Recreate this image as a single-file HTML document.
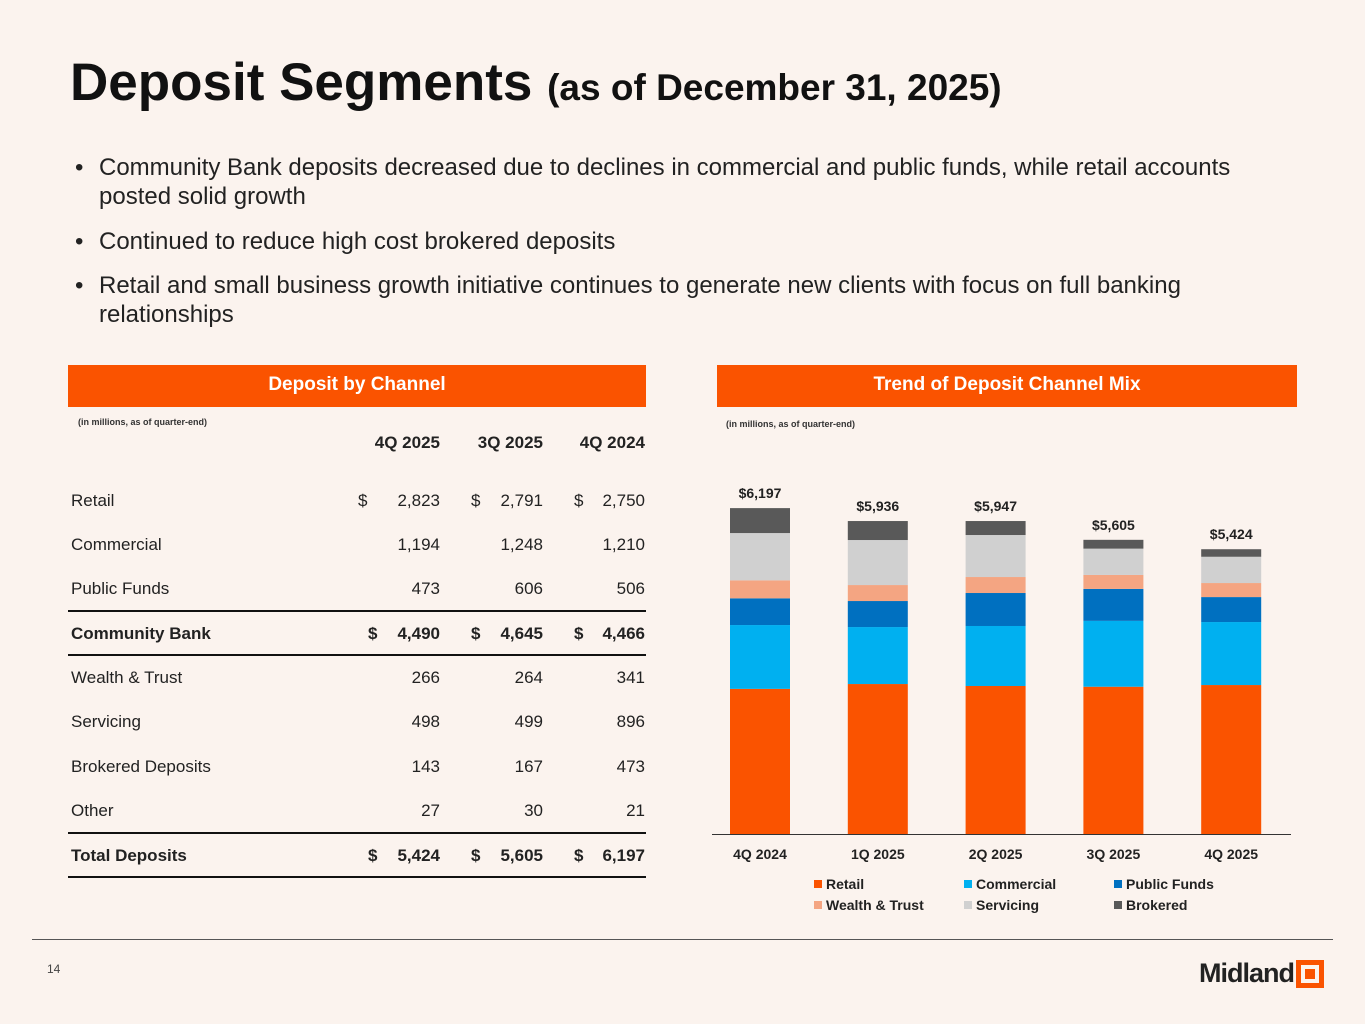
<!DOCTYPE html>
<html><head><meta charset="utf-8"><style>
body{margin:0;width:1365px;height:1024px;background:#FBF3EE;font-family:"Liberation Sans",Arial,sans-serif;position:relative;overflow:hidden;color:#222}
.abs{position:absolute}
h1{position:absolute;left:70px;top:52px;margin:0;font-size:53px;font-weight:bold;color:#111;white-space:nowrap}
h1 span{font-size:37px}
.b{position:absolute;left:75px;font-size:24px;color:#222;line-height:29px}
.b .d{position:absolute;left:0}
.b .t{margin-left:24px;display:block;width:1140px}
.hdr{position:absolute;top:365px;height:42px;background:#FA5300;color:#fff;font-weight:bold;font-size:19px;text-align:center;line-height:40px}
.note{position:absolute;font-size:9px;font-weight:bold;color:#333}
.row{position:absolute;left:68px;width:578px;height:44px;font-size:17px}
.row div{position:absolute;top:12px}
.c1{right:206px}.c2{right:103px}.c3{right:1px}
.line{position:absolute;left:68px;width:578px;height:2px;background:#111}
</style></head><body>
<h1>Deposit Segments <span>(as of December 31, 2025)</span></h1>
<div class="b" style="top:153px"><span class="d">•</span><span class="t">Community Bank deposits decreased due to declines in commercial and public funds, while retail accounts posted solid growth</span></div>
<div class="b" style="top:227px"><span class="d">•</span><span class="t">Continued to reduce high cost brokered deposits</span></div>
<div class="b" style="top:271px"><span class="d">•</span><span class="t">Retail and small business growth initiative continues to generate new clients with focus on full banking relationships</span></div>

<div class="hdr" style="left:68px;width:578px">Deposit by Channel</div>
<div class="hdr" style="left:717px;width:580px">Trend of Deposit Channel Mix</div>
<div class="note" style="left:78px;top:417px">(in millions, as of quarter-end)</div>
<div class="note" style="left:726px;top:419px">(in millions, as of quarter-end)</div>

<div>
<div class="row" style="top:421px;font-weight:bold"><div class="c1">4Q 2025</div><div class="c2">3Q 2025</div><div class="c3">4Q 2024</div></div>
<div class="row" style="top:479px"><div style="left:290px">$</div><div style="left:3px">Retail</div><div class="c1">2,823</div><div style="left:403px">$</div><div class="c2">2,791</div><div style="left:506px">$</div><div class="c3">2,750</div></div>
<div class="row" style="top:523px"><div style="left:3px">Commercial</div><div class="c1">1,194</div><div class="c2">1,248</div><div class="c3">1,210</div></div>
<div class="row" style="top:567px"><div style="left:3px">Public Funds</div><div class="c1">473</div><div class="c2">606</div><div class="c3">506</div></div>
<div class="line" style="top:610px"></div>
<div class="row" style="top:612px;font-weight:bold"><div style="left:3px">Community Bank</div><div style="left:300px">$</div><div class="c1">4,490</div><div style="left:403px">$</div><div class="c2">4,645</div><div style="left:506px">$</div><div class="c3">4,466</div></div>
<div class="line" style="top:654px"></div>
<div class="row" style="top:656px"><div style="left:3px">Wealth &amp; Trust</div><div class="c1">266</div><div class="c2">264</div><div class="c3">341</div></div>
<div class="row" style="top:700px"><div style="left:3px">Servicing</div><div class="c1">498</div><div class="c2">499</div><div class="c3">896</div></div>
<div class="row" style="top:745px"><div style="left:3px">Brokered Deposits</div><div class="c1">143</div><div class="c2">167</div><div class="c3">473</div></div>
<div class="row" style="top:789px"><div style="left:3px">Other</div><div class="c1">27</div><div class="c2">30</div><div class="c3">21</div></div>
<div class="line" style="top:832px"></div>
<div class="row" style="top:834px;font-weight:bold"><div style="left:3px">Total Deposits</div><div style="left:300px">$</div><div class="c1">5,424</div><div style="left:403px">$</div><div class="c2">5,605</div><div style="left:506px">$</div><div class="c3">6,197</div></div>
<div class="line" style="top:876px"></div>
</div>

<svg class="abs" style="left:0;top:0" width="1365" height="1024" id="chart"></svg>

<div class="abs" style="left:32px;top:939px;width:1301px;height:1px;background:#555"></div>
<div class="abs" style="left:47px;top:962px;font-size:12px;color:#444">14</div>
<div class="abs" style="left:1199px;top:958px;font-size:27px;font-weight:bold;color:#222;letter-spacing:-1px">Midland</div>
<div class="abs" style="left:1296px;top:960px;width:18px;height:18px;border:5px solid #FA5300;background:#FBF3EE"><div style="position:absolute;left:4px;top:4px;width:10px;height:10px;background:#FA5300"></div></div>

<script>
const categories=["4Q 2024","1Q 2025","2Q 2025","3Q 2025","4Q 2025"];
const seriesNames=["Retail","Commercial","Public Funds","Wealth & Trust","Servicing","Brokered"];
const retail=[2750,2842,2805,2791,2823];
const commercial=[1210,1080,1137,1248,1194];
const publicFunds=[506,493,625,606,473];
const wealth=[341,303,303,264,266];
const servicing=[896,853,796,499,498];
const brokered=[473,360,265,167,143];
const totals=[6197,5936,5947,5605,5424];
const totalLabels=["$6,197","$5,936","$5,947","$5,605","$5,424"];
const colors=["#FA5300","#00B0F0","#0070C0","#F4A582","#D0D0D0","#595959"];
const series=[retail,commercial,publicFunds,wealth,servicing,brokered];
const svg=document.getElementById('chart');
const NS="http://www.w3.org/2000/svg";
const base=834, scale=327/6197;
const y=v=>base-v*scale;
const x=i=>760+i*117.8;
const bw=60;
function mk(t,a){const e=document.createElementNS(NS,t);for(const k in a)e.setAttribute(k,a[k]);svg.appendChild(e);return e;}
categories.forEach((c,i)=>{
  let cum=0;
  series.forEach((s,j)=>{
    const r=mk('rect',{x:x(i)-bw/2,y:y(cum+s[i]),width:bw,height:s[i]*scale,fill:colors[j]});
    
    
    cum+=s[i];
  });
  const t=mk('text',{x:x(i),y:y(cum)-10,'text-anchor':'middle','font-size':14,'font-weight':'bold',fill:'#222'});
  t.textContent=totalLabels[i];
  
  
  const l=mk('text',{x:x(i),y:859,'text-anchor':'middle','font-size':14,'font-weight':'bold',fill:'#222'});
  l.textContent=c;
  
  
});
const ax=mk('line',{x1:712,x2:1291,y1:base+0.5,y2:base+0.5,stroke:'#333','stroke-width':1});


const lx=[814,964,1114], ly=[889,910];
seriesNames.forEach((n,j)=>{
  const cx=lx[j%3], cy=ly[Math.floor(j/3)];
  const r=mk('rect',{x:cx,y:cy-9,width:8,height:8,fill:colors[j]});
  
  
  const t=mk('text',{x:cx+12,y:cy,'font-size':14,'font-weight':'bold',fill:'#222'});
  t.textContent=n;
  
  
});
</script>
</body></html>
